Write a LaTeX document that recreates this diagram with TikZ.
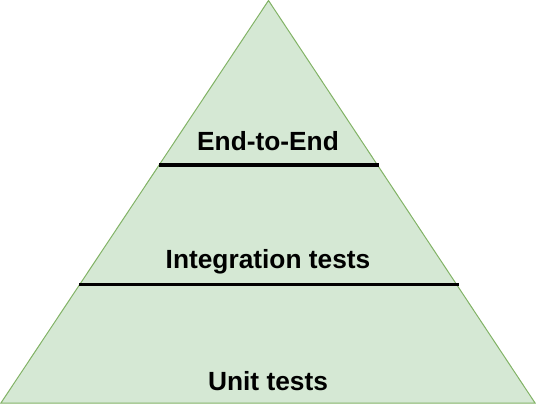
\documentclass[tikz,border=0pt]{standalone}
\usepackage{fontspec}
\setmainfont{Liberation Sans}
\usepackage{tikz}
\definecolor{layerfill}{HTML}{D5E8D4}
\definecolor{layerdraw}{HTML}{82B366}

\begin{document}
\begin{tikzpicture}[x=1pt,y=1pt,
	divider/.style={line width=3.3pt,black}, % separating lines
	every node/.style={font=\bfseries\fontsize{26.3}{30}\selectfont,inner sep=0pt}]
	\useasboundingbox (0,0) rectangle (536,404);
	\coordinate (bl) at (0.8,0.8);
	\coordinate (br) at (535.2,0.8);
	\coordinate (top) at (268.5,403.5);
	\filldraw[fill=layerfill,draw=layerdraw,line width=1pt] (bl)--(br)--(top)--cycle;

	\coordinate (d1l) at (159,239);
	\coordinate (d1r) at (379,239);
	\coordinate (d2l) at (79,119.5);
	\coordinate (d2r) at (459,119.5);

	\draw[divider] (d1l)--(d1r);
	\draw[divider] (d2l)--(d2r);

	\node (e2e) at (268,263)	{End-to-End};
	\node (integ) at (268,142)	{Integration tests};
	\node (unit) at (268,23)	{Unit tests};

\end{tikzpicture}
\end{document}
